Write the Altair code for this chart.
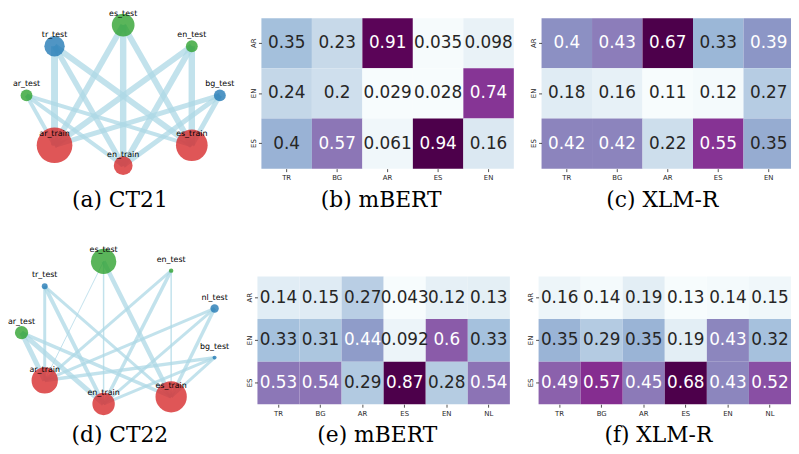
import altair as alt
import pandas as pd

# ---------------- heatmap data ----------------
train_rows = ["AR", "EN", "ES"]
ct21_cols = ["TR", "BG", "AR", "ES", "EN"]
ct22_cols = ["TR", "BG", "AR", "ES", "EN", "NL"]

mbert_ct21 = [[0.35, 0.23, 0.91, 0.035, 0.098],
              [0.24, 0.2, 0.029, 0.028, 0.74],
              [0.4, 0.57, 0.061, 0.94, 0.16]]
xlmr_ct21 = [[0.4, 0.43, 0.67, 0.33, 0.39],
             [0.18, 0.16, 0.11, 0.12, 0.27],
             [0.42, 0.42, 0.22, 0.55, 0.35]]
mbert_ct22 = [[0.14, 0.15, 0.27, 0.043, 0.12, 0.13],
              [0.33, 0.31, 0.44, 0.092, 0.6, 0.33],
              [0.53, 0.54, 0.29, 0.87, 0.28, 0.54]]
xlmr_ct22 = [[0.16, 0.14, 0.19, 0.13, 0.14, 0.15],
             [0.35, 0.29, 0.35, 0.19, 0.43, 0.32],
             [0.49, 0.57, 0.45, 0.68, 0.43, 0.52]]

# ---------------- graph data ----------------
ct21_nodes = ["tr_test", "es_test", "en_test", "ar_test", "bg_test",
              "ar_train", "en_train", "es_train"]
ct21_kind = ["unseen", "seen", "seen", "seen", "unseen", "train", "train", "train"]
ct21_x = [-0.71, 0.0, 0.71, -1.0, 1.0, -0.71, 0.0, 0.71]
ct21_y = [0.70, 1.0, 0.70, 0.0, 0.0, -0.71, -1.0, -0.71]
ct21_size = [106, 132, 36, 36, 36, 324, 90, 256]
ct21_tests = ["tr_test", "es_test", "en_test", "ar_test", "bg_test"]
ct21_trains = ["ar_train", "en_train", "es_train"]
ct21_weights = [[7.0, 5.5, 6.0],
                [6.0, 6.5, 6.0],
                [6.0, 6.0, 6.5],
                [4.0, 4.0, 4.0],
                [5.0, 5.0, 5.0]]

ct22_nodes = ["es_test", "en_test", "tr_test", "nl_test", "ar_test", "bg_test",
              "ar_train", "en_train", "es_train"]
ct22_kind = ["seen", "seen", "unseen", "unseen", "seen", "unseen", "train", "train", "train"]
ct22_x = [-0.15, 0.55, -0.76, 1.0, -1.0, 1.0, -0.76, -0.15, 0.55]
ct22_y = [1.0, 0.87, 0.65, 0.34, 0.0, -0.35, -0.67, -1.0, -0.9]
ct22_size = [164, 5, 9, 18, 45, 4, 177, 128, 250]
ct22_tests = ["tr_test", "es_test", "en_test", "nl_test", "ar_test", "bg_test"]
ct22_trains = ["ar_train", "en_train", "es_train"]
ct22_weights = [[3.0, 4.0, 3.0],
                [1.0, 1.5, 4.5],
                [3.0, 3.5, 1.5],
                [3.0, 3.0, 3.5],
                [5.0, 5.0, 3.5],
                [3.5, 3.0, 3.0]]

captions = ["(a) CT21", "(b) mBERT", "(c) XLM-R", "(d) CT22", "(e) mBERT", "(f) XLM-R"]

BUPU = ["#f7fcfd", "#e0ecf4", "#bfd3e6", "#9ebcda", "#8c96c6",
        "#8c6bb1", "#88419d", "#810f7c", "#4d004b"]

W, H = 791, 446
AX_COLOR = "#262626"


def heatmap(values, cols, xr, yr):
    recs = [{"row": r, "col": c, "v": values[i][j]}
            for i, r in enumerate(train_rows) for j, c in enumerate(cols)]
    df = pd.DataFrame(recs)
    vmin, vmax = df.v.min(), df.v.max()
    stops = [vmin + (vmax - vmin) * k / 8 for k in range(9)]
    x = alt.X("col:N", sort=cols,
              scale=alt.Scale(range=xr, paddingInner=0, paddingOuter=0),
              axis=alt.Axis(orient="bottom", offset=yr[1] - H, title=None,
                            domain=False, ticks=True, tickSize=3, tickWidth=0.8,
                            tickColor=AX_COLOR, labelFont="DejaVu Sans",
                            labelFontSize=7, labelColor=AX_COLOR,
                            labelPadding=2, labelAngle=0, grid=False))
    y = alt.Y("row:N", sort=train_rows,
              scale=alt.Scale(range=yr, paddingInner=0, paddingOuter=0),
              axis=alt.Axis(orient="left", offset=-xr[0], title=None,
                            domain=False, ticks=True, tickSize=3, tickWidth=0.8,
                            tickColor=AX_COLOR, labelFont="DejaVu Sans",
                            labelFontSize=7, labelColor=AX_COLOR,
                            labelPadding=2, labelAngle=270, grid=False))
    base = alt.Chart(df).encode(x=x, y=y)
    rect = base.mark_rect().encode(
        color=alt.Color("v:Q", scale=alt.Scale(domain=stops, range=BUPU,
                                               interpolate="rgb"), legend=None))
    text = base.transform_joinaggregate(
        lo="min(v)", hi="max(v)"
    ).transform_calculate(
        t="(datum.v - datum.lo) / (datum.hi - datum.lo)"
    ).mark_text(font="DejaVu Sans", fontSize=17, baseline="middle").encode(
        text=alt.Text("v:Q", format=".2~g"),
        color=alt.condition("datum.t > 0.455", alt.value("white"), alt.value(AX_COLOR)),
    )
    return alt.layer(rect, text)


def graph(nodes, kind, xs, ys, sizes, tests, trains, weights, xr, yr):
    pos = {n: (xs[i], ys[i]) for i, n in enumerate(nodes)}
    ndf = pd.DataFrame({"name": nodes, "kind": kind, "x": xs, "y": ys, "s": sizes})
    erecs = []
    for i, t in enumerate(tests):
        for j, tr in enumerate(trains):
            erecs.append({"x": pos[t][0], "y": pos[t][1],
                          "x2": pos[tr][0], "y2": pos[tr][1],
                          "w": weights[i][j]})
    edf = pd.DataFrame(erecs)
    xs_ = alt.Scale(domain=[-1, 1], range=xr)
    ys_ = alt.Scale(domain=[-1, 1], range=yr)
    edges = alt.Chart(edf).mark_rule(color="#add8e6", opacity=0.75).encode(
        x=alt.X("x:Q", scale=xs_, axis=None),
        y=alt.Y("y:Q", scale=ys_, axis=None),
        x2="x2:Q", y2="y2:Q",
        strokeWidth=alt.StrokeWidth("w:Q", scale=alt.Scale(domain=[0, 10], range=[0, 10]),
                                    legend=None),
    )
    pts = alt.Chart(ndf).mark_circle(opacity=0.78, strokeWidth=0).encode(
        x=alt.X("x:Q", scale=xs_, axis=None),
        y=alt.Y("y:Q", scale=ys_, axis=None),
        size=alt.Size("s:Q", scale=alt.Scale(domain=[0, 100], range=[0, 400]), legend=None),
        color=alt.Color("kind:N", scale=alt.Scale(domain=["train", "seen", "unseen"],
                                                  range=["#d62728", "#2ca02c", "#1f77b4"]),
                        legend=None),
    )
    labels = alt.Chart(ndf).mark_text(font="DejaVu Sans", fontSize=8, dy=-11,
                                      baseline="middle", color="black").encode(
        x=alt.X("x:Q", scale=xs_, axis=None),
        y=alt.Y("y:Q", scale=ys_, axis=None),
        text="name:N",
    )
    return alt.layer(edges, pts, labels)


def caption(txt, cx, cy):
    return alt.Chart(pd.DataFrame({"t": [txt]})).mark_text(
        font="DejaVu Serif", fontSize=22, baseline="middle", align="center", color="black"
    ).encode(text="t:N", x=alt.value(cx), y=alt.value(cy))


layers = [
    graph(ct21_nodes, ct21_kind, ct21_x, ct21_y, ct21_size, ct21_tests, ct21_trains,
          ct21_weights, [18.7, 214.0], [157.0, 15.0]),
    graph(ct22_nodes, ct22_kind, ct22_x, ct22_y, ct22_size, ct22_tests, ct22_trains,
          ct22_weights, [13.7, 208.7], [397.7, 253.7]),
    heatmap(mbert_ct21, ct21_cols, [256, 511], [8, 160]),
    heatmap(xlmr_ct21, ct21_cols, [539, 794], [8, 160]),
    heatmap(mbert_ct22, ct22_cols, [252, 507], [269, 398]),
    heatmap(xlmr_ct22, ct22_cols, [536, 791], [269, 398]),
    caption(captions[0], 113, 192),
    caption(captions[1], 377, 192),
    caption(captions[2], 661, 192),
    caption(captions[3], 113, 429),
    caption(captions[4], 373, 429),
    caption(captions[5], 657, 429),
]

chart = alt.layer(*layers).resolve_scale(
    x="independent", y="independent", color="independent",
    size="independent", strokeWidth="independent"
).resolve_axis(
    x="independent", y="independent"
).resolve_legend(
    color="independent", size="independent", strokeWidth="independent"
).properties(
    width=W, height=H, padding=0, autosize="none"
).configure_view(stroke=None)

chart.save("out.html", embed_options={"renderer": "svg", "actions": False})
